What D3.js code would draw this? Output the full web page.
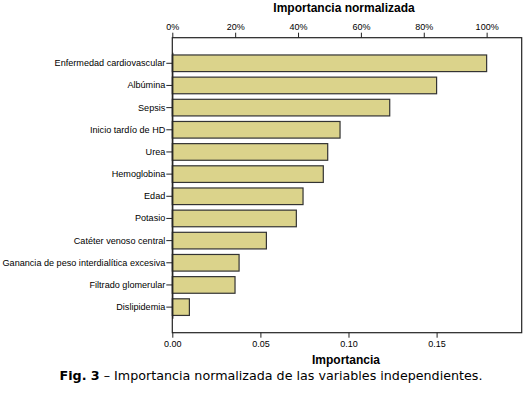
<!DOCTYPE html>
<html>
<head>
<meta charset="utf-8">
<script src="https://cdn.jsdelivr.net/npm/d3@7"></script>
<style>
  body { margin: 0; background: #fff; }
  svg text { font-family: "Liberation Sans", Arial, sans-serif; fill: #000; }
  .caption { font-family: "DejaVu Sans", Verdana, sans-serif; }
</style>
</head>
<body>
<svg id="chart" width="528" height="394"></svg>
<script>
// variables, sorted by importance
const variables = [
  "Enfermedad cardiovascular", "Albúmina", "Sepsis", "Inicio tardío de HD",
  "Urea", "Hemoglobina", "Edad", "Potasio", "Catéter venoso central",
  "Ganancia de peso interdialítica excesiva", "Filtrado glomerular", "Dislipidemia"
]
const importance = [0.1784, 0.150, 0.1234, 0.0952, 0.0882, 0.0857, 0.0742, 0.0704, 0.0534, 0.0379, 0.0356, 0.0097]
const bottomTicks = [0, 0.05, 0.10, 0.15]
const topTicks = [0, 0.2, 0.4, 0.6, 0.8, 1.0]

const svg = d3.select("#chart")

// plot frame
const frameL = 172.3, frameR = 521.7, frameT = 37.7, frameB = 332.7

let x = d3.scaleLinear()
    .domain([0, 0.1983])
    .range([frameL, frameR])

// normalized scale: 100% = max importance
const maxImp = d3.max(importance)
let xNorm = d3.scaleLinear()
    .domain([0, 0.1983 / maxImp])
    .range([frameL, frameR])

let y = d3.scaleBand()
    .domain(variables)
    .range([frameT + 14.5, frameB - 14.5])
    .paddingInner(0.25)
    .paddingOuter(0.125)

// frame
svg.append("rect")
    .attr("x", frameL).attr("y", frameT)
    .attr("width", frameR - frameL).attr("height", frameB - frameT)
    .attr("fill", "none").attr("stroke", "#222").attr("stroke-width", 1.2)

// bars
svg.append("g").selectAll("rect")
    .data(variables)
    .join("rect")
    .attr("x", frameL)
    .attr("y", d => y(d))
    .attr("width", (d, i) => x(importance[i]) - frameL)
    .attr("height", y.bandwidth())
    .attr("fill", "#dbd38b")
    .attr("stroke", "#333")
    .attr("stroke-width", 1.2)

// left axis (categories)
let yAxis = svg.append("g")
    .attr("transform", `translate(${frameL},0)`)
    .call(d3.axisLeft(y).tickSize(6).tickPadding(1).tickSizeOuter(0))
yAxis.select(".domain").attr("stroke", "#222").attr("stroke-width", 1.2)
yAxis.selectAll("line").attr("stroke", "#222")
yAxis.selectAll("text").attr("font-size", "9.1px").attr("dy", "0.32em")

// bottom axis
let xAxis = svg.append("g")
    .attr("transform", `translate(0,${frameB})`)
    .call(d3.axisBottom(x).tickValues(bottomTicks).tickFormat(d3.format(".2f"))
        .tickSize(5).tickPadding(3).tickSizeOuter(0))
xAxis.select(".domain").remove()
xAxis.selectAll("line").attr("stroke", "#222")
xAxis.selectAll("text").attr("font-size", "9px")

// top axis
let topAxis = svg.append("g")
    .attr("transform", `translate(0,${frameT})`)
    .call(d3.axisTop(xNorm).tickValues(topTicks).tickFormat(d3.format(".0%"))
        .tickSize(5).tickPadding(3).tickSizeOuter(0))
topAxis.select(".domain").remove()
topAxis.selectAll("line").attr("stroke", "#222")
topAxis.selectAll("text").attr("font-size", "9px")

// axis titles
svg.append("text")
    .attr("x", 344).attr("y", 12)
    .attr("text-anchor", "middle")
    .attr("font-size", "12px").attr("font-weight", "bold")
    .text("Importancia normalizada")

svg.append("text")
    .attr("x", 346).attr("y", 364)
    .attr("text-anchor", "middle")
    .attr("font-size", "12px").attr("font-weight", "bold")
    .text("Importancia")

// caption
let cap = svg.append("text")
    .attr("class", "caption")
    .attr("x", 271).attr("y", 380)
    .attr("text-anchor", "middle")
    .attr("font-size", "12.7px")
cap.append("tspan").attr("font-weight", "bold").text("Fig. 3")
cap.append("tspan").text(" – Importancia normalizada de las variables independientes.")
</script>
</body>
</html>
